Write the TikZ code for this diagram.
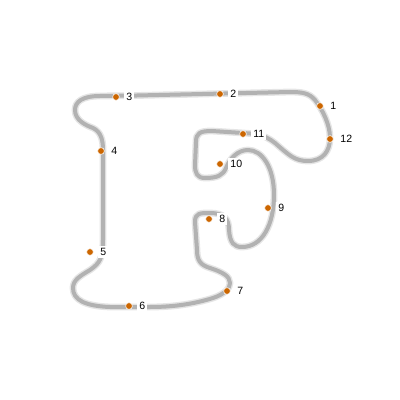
\documentclass[tikz,border=0pt]{standalone}
\usepackage{fontspec}
\setsansfont{Liberation Sans}
\begin{document}
\begin{tikzpicture}[x=0.025cm, y=-0.025cm,
    knot/.style={circle, fill=orange!80!black, draw=white, line width=0.4pt, inner sep=0pt, minimum size=1.7mm},
    tag/.style={fill=white, inner sep=1.5pt, font=\sffamily\fontsize{7.5}{8}\selectfont}]
    \useasboundingbox (0,0) rectangle (400,400);

    % Outline of the letter
    \def\outline{(103,150) -- (103,240)
        .. controls (103,258) and (100,263) .. (90,270)
        .. controls (80,276) and (73,280) .. (73,288)
        .. controls (73,300) and (85,306) .. (110,307)
        -- (150,307)
        .. controls (180,307) and (200,302) .. (213,298)
        .. controls (225,294) and (230,288) .. (230,283)
        .. controls (230,276) and (222,272) .. (210,268)
        .. controls (200,265) and (197,260) .. (197,250)
        -- (195,222)
        .. controls (195,213) and (200,213) .. (210,213)
        .. controls (224,213) and (229,219) .. (229,230)
        .. controls (230,243) and (234,247) .. (242,247)
        .. controls (262,247) and (274,225) .. (274,195)
        .. controls (274,167) and (262,150) .. (248,150)
        .. controls (238,150) and (230,158) .. (226,168)
        .. controls (223,175) and (218,178) .. (205,178)
        .. controls (197,178) and (195,173) .. (195,165)
        -- (196,142)
        .. controls (196,133) and (200,131) .. (212,131)
        -- (243,133)
        .. controls (255,134) and (262,133) .. (275,143)
        .. controls (290,156) and (295,161) .. (308,161)
        .. controls (323,161) and (330,151) .. (330,138)
        .. controls (330,124) and (322,109) .. (315,100)
        .. controls (309,93) and (302,92) .. (290,92)
        -- (137,95.5)
        -- (100,96)
        .. controls (82,96) and (75,102) .. (75,110)
        .. controls (75,120) and (85,125) .. (93,128)
        .. controls (101,132) and (103,140) .. (103,150) -- cycle}
    \draw[gray!20, line width=1.7mm, line join=round] \outline;
    \draw[gray!60, line width=1.0mm, line join=round] \outline;

    % Points and labels
    \foreach \x/\y/\n in {320/106/1, 220/94/2, 116/97/3, 101/151/4, 90/252/5, 129/306/6,
        227/291/7, 209/219/8, 268/208/9, 220/164/10, 243/134/11, 330/139/12}{
        \node[tag, anchor=west] (t\n) at (\x+8,\y) {\n};
        \node[knot] (p\n) at (\x,\y) {};
    }
\end{tikzpicture}
\end{document}
